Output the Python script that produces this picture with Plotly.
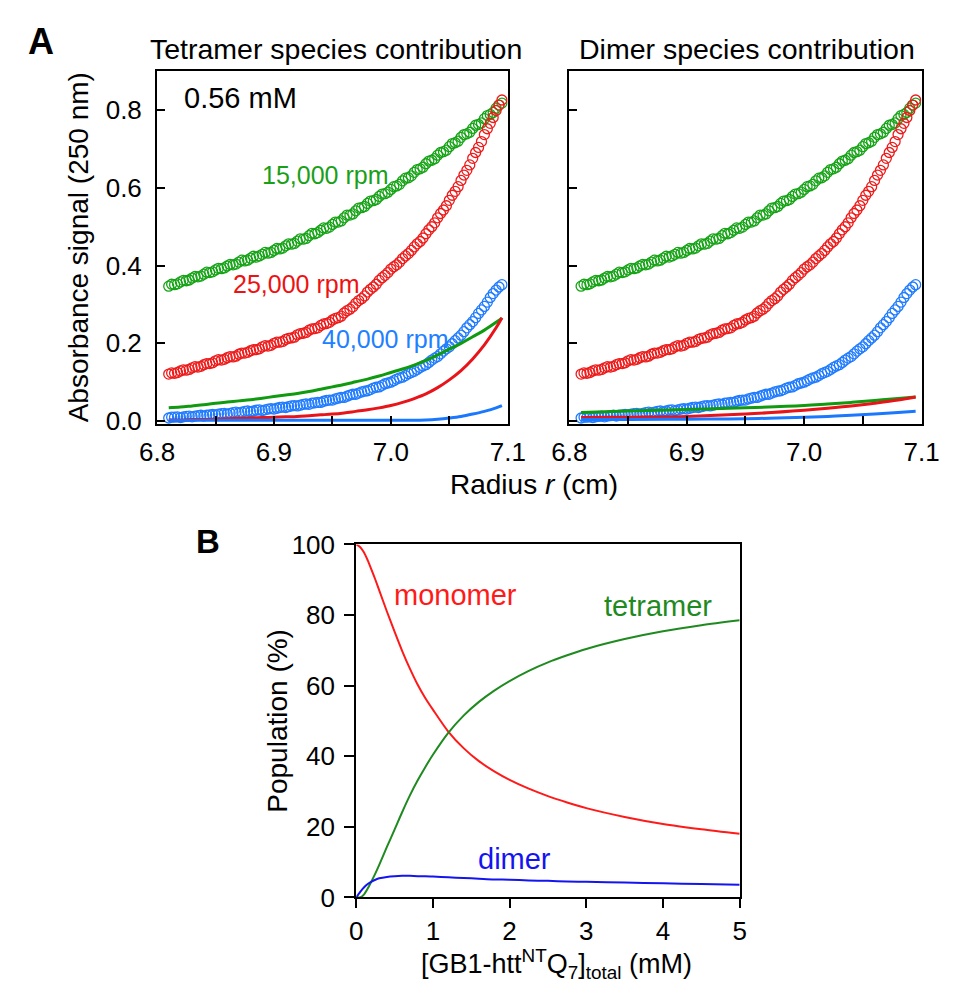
import plotly.graph_objects as go

# ---------------- Panel A data (same sedimentation profiles in both panels) ----------------
radius = [6.810, 6.815, 6.820, 6.825, 6.830, 6.835, 6.840, 6.845, 6.850, 6.855,
          6.860, 6.865, 6.870, 6.875, 6.880, 6.885, 6.890, 6.895, 6.900, 6.905,
          6.910, 6.915, 6.920, 6.925, 6.930, 6.935, 6.940, 6.945, 6.950, 6.955,
          6.960, 6.965, 6.970, 6.975, 6.980, 6.985, 6.990, 6.995, 7.000, 7.005,
          7.010, 7.015, 7.020, 7.025, 7.030, 7.035, 7.040, 7.045, 7.050, 7.055,
          7.060, 7.065, 7.070, 7.075, 7.080, 7.085, 7.090, 7.095,
          6.8125, 6.8175, 6.8225, 6.8275, 6.8325, 6.8375, 6.8425, 6.8475, 6.8525, 6.8575,
          6.8625, 6.8675, 6.8725, 6.8775, 6.8825, 6.8875, 6.8925, 6.8975, 6.9025, 6.9075,
          6.9125, 6.9175, 6.9225, 6.9275, 6.9325, 6.9375, 6.9425, 6.9475, 6.9525, 6.9575,
          6.9625, 6.9675, 6.9725, 6.9775, 6.9825, 6.9875, 6.9925, 6.9975, 7.0025, 7.0075,
          7.0125, 7.0175, 7.0225, 7.0275, 7.0325, 7.0375, 7.0425, 7.0475, 7.0525, 7.0575,
          7.0625, 7.0675, 7.0725, 7.0775, 7.0825, 7.0875, 7.0925]

abs_15k = [0.347, 0.351, 0.358, 0.361, 0.368, 0.371, 0.378, 0.382, 0.389, 0.392,
           0.399, 0.402, 0.409, 0.412, 0.419, 0.422, 0.429, 0.432, 0.439, 0.443,
           0.451, 0.455, 0.463, 0.468, 0.477, 0.482, 0.491, 0.496, 0.506, 0.512,
           0.523, 0.530, 0.541, 0.549, 0.560, 0.567, 0.578, 0.585, 0.596, 0.605,
           0.618, 0.626, 0.640, 0.649, 0.662, 0.671, 0.684, 0.693, 0.706, 0.716,
           0.730, 0.739, 0.753, 0.763, 0.778, 0.789, 0.805, 0.818,
           0.352, 0.353, 0.362, 0.363, 0.372, 0.373, 0.383, 0.384, 0.393, 0.394,
           0.403, 0.404, 0.414, 0.414, 0.424, 0.425, 0.434, 0.434, 0.444, 0.445,
           0.456, 0.457, 0.469, 0.470, 0.483, 0.485, 0.497, 0.499, 0.512, 0.515,
           0.530, 0.533, 0.548, 0.552, 0.566, 0.570, 0.584, 0.589, 0.603, 0.609,
           0.625, 0.631, 0.647, 0.653, 0.669, 0.675, 0.691, 0.697, 0.714, 0.720,
           0.737, 0.743, 0.761, 0.767, 0.786, 0.794, 0.813]

abs_25k = [0.121, 0.123, 0.129, 0.131, 0.137, 0.139, 0.145, 0.148, 0.155, 0.157,
           0.163, 0.165, 0.172, 0.175, 0.181, 0.184, 0.191, 0.193, 0.200, 0.203,
           0.210, 0.214, 0.222, 0.226, 0.234, 0.238, 0.246, 0.251, 0.260, 0.266,
           0.278, 0.288, 0.303, 0.315, 0.332, 0.345, 0.362, 0.375, 0.391, 0.402,
           0.418, 0.431, 0.448, 0.462, 0.482, 0.500, 0.523, 0.543, 0.568, 0.591,
           0.619, 0.645, 0.676, 0.704, 0.737, 0.766, 0.799, 0.826,
           0.124, 0.125, 0.132, 0.133, 0.140, 0.141, 0.148, 0.150, 0.158, 0.159,
           0.166, 0.167, 0.175, 0.177, 0.184, 0.186, 0.194, 0.195, 0.203, 0.205,
           0.213, 0.216, 0.225, 0.228, 0.237, 0.240, 0.250, 0.254, 0.264, 0.270,
           0.284, 0.294, 0.310, 0.322, 0.339, 0.352, 0.369, 0.382, 0.397, 0.409,
           0.425, 0.439, 0.456, 0.471, 0.492, 0.510, 0.534, 0.554, 0.581, 0.603,
           0.633, 0.659, 0.691, 0.719, 0.752, 0.781, 0.813]

abs_40k = [0.008, 0.010, 0.009, 0.012, 0.011, 0.014, 0.013, 0.016, 0.016, 0.019,
           0.018, 0.022, 0.021, 0.025, 0.024, 0.028, 0.027, 0.031, 0.031, 0.035,
           0.035, 0.039, 0.039, 0.043, 0.043, 0.047, 0.048, 0.053, 0.054, 0.059,
           0.061, 0.067, 0.069, 0.075, 0.078, 0.085, 0.088, 0.096, 0.100, 0.108,
           0.113, 0.122, 0.128, 0.138, 0.145, 0.157, 0.166, 0.180, 0.191, 0.207,
           0.221, 0.240, 0.256, 0.277, 0.295, 0.318, 0.337, 0.351,
           0.010, 0.011, 0.011, 0.013, 0.013, 0.015, 0.015, 0.017, 0.018, 0.020,
           0.020, 0.023, 0.023, 0.026, 0.026, 0.029, 0.029, 0.032, 0.033, 0.036,
           0.037, 0.040, 0.041, 0.044, 0.046, 0.048, 0.051, 0.054, 0.057, 0.061,
           0.064, 0.069, 0.072, 0.077, 0.081, 0.087, 0.092, 0.098, 0.104, 0.111,
           0.117, 0.125, 0.133, 0.142, 0.151, 0.162, 0.173, 0.186, 0.199, 0.214,
           0.230, 0.248, 0.266, 0.286, 0.306, 0.328, 0.345]

# Tetramer species contribution (fitted curves)
fit_r = [6.81, 6.82, 6.83, 6.84, 6.85, 6.86, 6.87, 6.88, 6.89, 6.90,
         6.91, 6.92, 6.93, 6.94, 6.95, 6.96, 6.97, 6.98, 6.99, 7.00,
         7.01, 7.02, 7.03, 7.04, 7.05, 7.06, 7.07, 7.08, 7.09, 7.095]
tet_15k = [0.034, 0.036, 0.039, 0.042, 0.046, 0.049, 0.052, 0.055, 0.059, 0.063,
           0.067, 0.071, 0.076, 0.082, 0.088, 0.094, 0.101, 0.108, 0.116, 0.125,
           0.134, 0.144, 0.156, 0.170, 0.185, 0.200, 0.217, 0.234, 0.254, 0.265]
tet_25k = [0.003, 0.003, 0.004, 0.004, 0.005, 0.006, 0.007, 0.008, 0.009, 0.010,
           0.011, 0.012, 0.014, 0.016, 0.018, 0.021, 0.025, 0.029, 0.034, 0.040,
           0.048, 0.058, 0.070, 0.086, 0.106, 0.130, 0.160, 0.196, 0.240, 0.266]
tet_40k = [0.002, 0.002, 0.002, 0.002, 0.002, 0.002, 0.002, 0.002, 0.002, 0.002,
           0.002, 0.002, 0.002, 0.002, 0.002, 0.002, 0.002, 0.002, 0.002, 0.002,
           0.002, 0.002, 0.003, 0.005, 0.008, 0.012, 0.018, 0.025, 0.034, 0.040]

# Dimer species contribution (fitted curves)
dim_r = [6.81, 6.85, 6.90, 6.95, 7.00, 7.02, 7.04, 7.06, 7.08, 7.095]
dim_15k = [0.022, 0.026, 0.030, 0.034, 0.040, 0.044, 0.048, 0.053, 0.058, 0.062]
dim_25k = [0.009, 0.010, 0.012, 0.018, 0.028, 0.033, 0.039, 0.046, 0.054, 0.062]
dim_40k = [0.004, 0.004, 0.005, 0.006, 0.010, 0.012, 0.015, 0.018, 0.022, 0.025]

a_xticks = [6.8, 6.9, 7.0, 7.1]
a_xticktext = ["6.8", "6.9", "7.0", "7.1"]
a_xminor = [6.85, 6.95, 7.05]
a_yticks = [0.0, 0.2, 0.4, 0.6, 0.8]
a_yticktext = ["0.0", "0.2", "0.4", "0.6", "0.8"]

# ---------------- Panel B data ----------------
conc = [0, 0.05, 0.1, 0.15, 0.2, 0.25, 0.3, 0.4, 0.5, 0.6, 0.7, 0.8, 0.9, 1.0,
        1.2, 1.4, 1.6, 1.8, 2.0, 2.25, 2.5, 2.75, 3.0, 3.5, 4.0, 4.5, 5.0]
monomer = [100, 99.3, 97.8, 95.5, 92.8, 90.0, 87.0, 81.0, 75.3, 69.8, 64.8, 60.3, 56.5, 53.2,
           47.0, 42.3, 38.6, 35.7, 33.3, 30.8, 28.7, 26.9, 25.3, 22.8, 20.8, 19.3, 18.0]
tetramer = [0, 0, 0.8, 2.5, 4.6, 6.8, 9.2, 14.3, 19.2, 24.2, 28.9, 33.1, 36.9, 40.4,
            46.6, 51.5, 55.4, 58.6, 61.3, 64.2, 66.6, 68.6, 70.4, 73.2, 75.4, 77.1, 78.5]
dimer = [0, 1.5, 2.8, 3.8, 4.5, 5.0, 5.4, 5.8, 6.0, 6.1, 6.1, 6.0, 6.0, 5.9,
         5.7, 5.5, 5.3, 5.1, 5.0, 4.8, 4.7, 4.5, 4.4, 4.2, 4.0, 3.8, 3.6]

b_xticks = [0, 1, 2, 3, 4, 5]
b_yticks = [0, 20, 40, 60, 80, 100]

FONT = "Liberation Sans, Arial, Helvetica, sans-serif"
W, H = 953, 989

G_PT, R_PT, B_PT = "#16a316", "#ee1b1b", "#1f7bff"
G_LN, R_LN, B_LN = "#0f9a0f", "#e8141a", "#1a78ff"


def px(x):
    return x / W


def py(y):
    return 1 - y / H


fig = go.Figure()

for xa, ya in (("x", "y"), ("x2", "y2")):
    for vals, col in ((abs_15k, G_PT), (abs_25k, R_PT), (abs_40k, B_PT)):
        fig.add_trace(go.Scatter(x=radius, y=vals, mode="markers", xaxis=xa, yaxis=ya,
                                 marker=dict(symbol="circle-open", size=10, color=col,
                                             line=dict(width=1.3, color=col)),
                                 showlegend=False, hoverinfo="skip"))

for vals, col in ((tet_15k, G_LN), (tet_25k, R_LN), (tet_40k, B_LN)):
    fig.add_trace(go.Scatter(x=fit_r, y=vals, mode="lines", xaxis="x", yaxis="y",
                             line=dict(color=col, width=3, shape="spline"), showlegend=False))
for vals, col in ((dim_15k, G_LN), (dim_25k, R_LN), (dim_40k, B_LN)):
    fig.add_trace(go.Scatter(x=dim_r, y=vals, mode="lines", xaxis="x2", yaxis="y2",
                             line=dict(color=col, width=3, shape="spline"), showlegend=False))

for vals, col in ((monomer, "#ff1a1a"), (tetramer, "#1f8a1f"), (dimer, "#1414f0")):
    fig.add_trace(go.Scatter(x=conc, y=vals, mode="lines", xaxis="x3", yaxis="y3",
                             line=dict(color=col, width=2, shape="spline", smoothing=0.8),
                             showlegend=False))

a_x_common = dict(range=[6.8, 7.1], tickmode="array", tickvals=a_xticks, ticktext=a_xticktext,
                  ticks="inside", ticklen=8, tickwidth=2, tickcolor="black",
                  minor=dict(tickmode="array", tickvals=a_xminor, ticks="inside", ticklen=8,
                             tickwidth=2, tickcolor="black", showgrid=False),
                  showline=True, linewidth=2, linecolor="black", mirror=True,
                  showgrid=False, zeroline=False, tickfont=dict(size=26, color="black"),
                  ticklabelstandoff=4)
a_y_common = dict(range=[-0.008, 0.9], tickmode="array", tickvals=a_yticks, ticktext=a_yticktext,
                  ticks="inside", ticklen=8, tickwidth=2, tickcolor="black",
                  showline=True, linewidth=2, linecolor="black", mirror=True,
                  showgrid=False, zeroline=False, tickfont=dict(size=26, color="black"),
                  ticklabelstandoff=8)

fig.update_layout(
    width=W, height=H, autosize=False,
    margin=dict(l=0, r=0, t=0, b=0),
    paper_bgcolor="white", plot_bgcolor="white",
    font=dict(family=FONT, color="black"),
    xaxis=dict(domain=[px(144.5), px(509)], anchor="y", **a_x_common),
    yaxis=dict(domain=[py(422), py(58)], anchor="x", **a_y_common),
    xaxis2=dict(domain=[px(573), px(939)], anchor="y2", **a_x_common),
    yaxis2=dict(domain=[py(422), py(58)], anchor="x2", showticklabels=False, **a_y_common),
    xaxis3=dict(domain=[px(351.5), px(750)], anchor="y3", range=[0, 5], tickmode="array",
                tickvals=b_xticks, ticks="outside", ticklen=9, tickwidth=2, tickcolor="black",
                showline=True, linewidth=2, linecolor="black", mirror=True,
                showgrid=False, zeroline=False, tickfont=dict(size=26, color="black"),
                ticklabelstandoff=0),
    yaxis3=dict(domain=[py(910), py(546)], anchor="x3", range=[0, 100], tickmode="array",
                tickvals=b_yticks, ticks="outside", ticklen=10, tickwidth=2, tickcolor="black",
                showline=True, linewidth=2, linecolor="black", mirror=True,
                showgrid=False, zeroline=False, tickfont=dict(size=26, color="black"),
                ticklabelstandoff=4),
)

ann = []
# panel letters, titles and axis titles (positions in pixels of the 953x989 page)
ann.append(dict(text="<b>A</b>", x=px(24), y=py(27), size=36))
ann.append(dict(text="<b>B</b>", x=px(197), y=py(543), size=33))
ann.append(dict(text="Tetramer species contribution", x=px(330), y=py(35), size=28.5))
ann.append(dict(text="Dimer species contribution", x=px(758), y=py(35), size=28.5))
ann.append(dict(text="Radius <i>r</i> (cm)", x=px(536), y=py(484), size=28))
ann.append(dict(text="Absorbance signal (250 nm)", x=px(63), y=py(240), size=28, angle=-90))
ann.append(dict(text="Population (%)", x=px(270), y=py(728), size=28, angle=-90))

annotations = []
for a in ann:
    annotations.append(dict(text=a["text"], x=a["x"], y=a["y"], xref="paper", yref="paper",
                            xanchor="center", yanchor="middle", showarrow=False,
                            textangle=a.get("angle", 0),
                            font=dict(size=a["size"], color="black", family=FONT)))
annotations.append(dict(text="[GB1-htt<sup>NT</sup>Q<sub>7</sub>]<sub>total</sub> (mM)",
                        x=px(560), y=py(1000), xref="paper", yref="paper",
                        xanchor="center", yanchor="bottom", showarrow=False,
                        font=dict(size=27, color="black", family=FONT)))

# data-anchored labels
for text, x, y, xr, yr, size, col in (
        ("0.56 mM", 6.871, 0.830, "x", "y", 29, "black"),
        ("15,000 rpm", 6.944, 0.633, "x", "y", 25, "#18a018"),
        ("25,000 rpm", 6.919, 0.353, "x", "y", 25, "#ee1111"),
        ("40,000 rpm", 6.995, 0.212, "x", "y", 25, "#2080ff"),
        ("monomer", 1.29, 85.8, "x3", "y3", 29, "#ff1a1a"),
        ("tetramer", 3.93, 82.5, "x3", "y3", 29, "#1f8a1f"),
        ("dimer", 2.07, 11.0, "x3", "y3", 29, "#1414f0")):
    annotations.append(dict(text=text, x=x, y=y, xref=xr, yref=yr, xanchor="center",
                            yanchor="middle", showarrow=False,
                            font=dict(size=size, color=col, family=FONT)))

fig.update_layout(annotations=annotations)
fig.write_html("out.html", config={"displayModeBar": False},
               post_script="document.body.style.margin='0';")
